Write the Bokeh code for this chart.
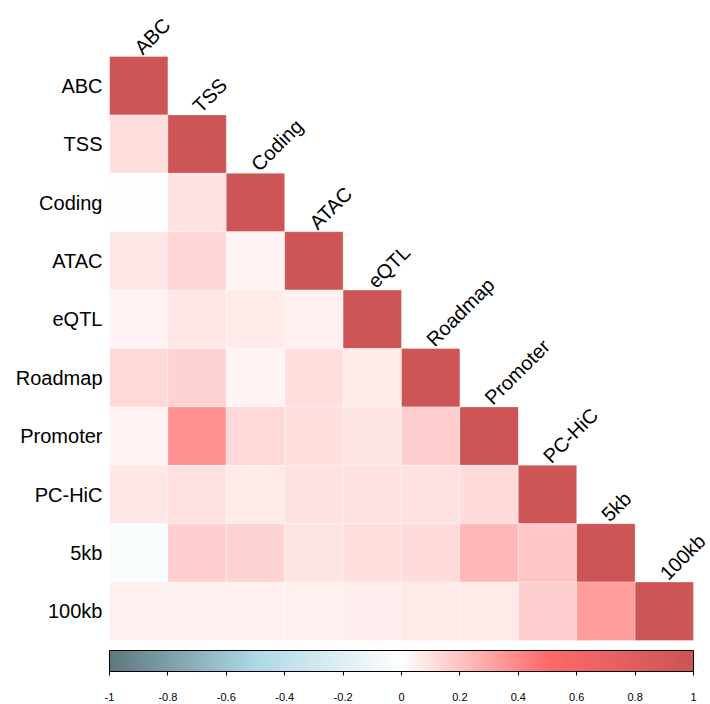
import numpy as np
from bokeh.plotting import figure
from bokeh.models import (ColumnDataSource, LinearColorMapper, ColorBar, FixedTicker,
                          Range1d, CustomJSTickFormatter)
from bokeh.transform import transform
from bokeh.core.properties import value
from bokeh.embed import file_html
from bokeh.resources import INLINE

# ---------------- data ----------------
labels = ["ABC", "TSS", "Coding", "ATAC", "eQTL", "Roadmap", "Promoter", "PC-HiC", "5kb", "100kb"]
# lower triangle of the correlation matrix, row by row (diagonal = 1)
row_ABC = [1.0]
row_TSS = [0.11, 1.0]
row_Coding = [-0.01, 0.10, 1.0]
row_ATAC = [0.08, 0.14, 0.04, 1.0]
row_eQTL = [0.04, 0.08, 0.07, 0.05, 1.0]
row_Roadmap = [0.13, 0.15, 0.04, 0.11, 0.07, 1.0]
row_Promoter = [0.04, 0.37, 0.13, 0.11, 0.09, 0.16, 1.0]
row_PCHiC = [0.08, 0.10, 0.07, 0.10, 0.10, 0.10, 0.12, 1.0]
row_5kb = [-0.03, 0.16, 0.15, 0.09, 0.11, 0.12, 0.24, 0.19, 1.0]
row_100kb = [0.05, 0.05, 0.05, 0.05, 0.06, 0.07, 0.07, 0.16, 0.33, 1.0]
corr_rows = [row_ABC, row_TSS, row_Coding, row_ATAC, row_eQTL, row_Roadmap,
             row_Promoter, row_PCHiC, row_5kb, row_100kb]
cbar_ticks = [-1, -0.8, -0.6, -0.4, -0.2, 0, 0.2, 0.4, 0.6, 0.8, 1]

# ---------------- palette ----------------
anchors = [(-1.0, (94, 121, 128)), (-0.5, (173, 216, 230)), (0.0, (255, 255, 255)),
           (0.5, (255, 106, 106)), (1.0, (205, 85, 85))]
palette = []
for v in np.linspace(-1, 1, 201):
    for (a, ca), (b, cb) in zip(anchors[:-1], anchors[1:]):
        if a <= v <= b:
            t = (v - a) / (b - a)
            c = [int(round(ca[k] + (cb[k] - ca[k]) * t)) for k in range(3)]
            palette.append("#%02x%02x%02x" % tuple(c))
            break
mapper = LinearColorMapper(palette=palette, low=-1, high=1)

xs, ys, vals = [], [], []
for i, row in enumerate(corr_rows):
    for j, v in enumerate(row):
        xs.append(j)
        ys.append(i)
        vals.append(v)
src = ColumnDataSource(dict(x=xs, y=ys, v=vals))
lab_src = ColumnDataSource(dict(x=list(range(len(labels))), y=list(range(len(labels))), t=labels))

# ---------------- geometry ----------------
n = len(labels)
cell = 58.4
W, H = 710, 704
left = 109
top_extra = 56
frame_w = W - left
frame_h = H
x_end = -0.5 + frame_w / cell
y_top = -0.5 - top_extra / cell
y_bottom = y_top + frame_h / cell

p = figure(width=W, height=H, output_backend="svg", toolbar_location=None,
           x_range=Range1d(-0.5, x_end), y_range=Range1d(y_bottom, y_top),
           min_border_left=left, min_border_right=0, min_border_top=0, min_border_bottom=0)
p.outline_line_color = None
p.xgrid.visible = False
p.ygrid.visible = False
p.xaxis.visible = False
p.background_fill_color = "white"
p.border_fill_color = "white"

p.rect(x="x", y="y", width=1, height=1, source=src,
       fill_color=transform("v", mapper), line_color="white", line_alpha=0.3, line_width=1)

p.text(x="x", y="y", text="t", source=lab_src, angle=np.pi / 4,
       x_offset=-1, y_offset=-35, text_align="left", text_baseline="alphabetic",
       text_font=value("Liberation Sans"), text_font_size="20px", text_color="black")

yax = p.yaxis[0]
yax.ticker = FixedTicker(ticks=list(range(n)))
yax.major_label_overrides = {i: lab for i, lab in enumerate(labels)}
yax.axis_line_color = None
yax.major_tick_line_color = None
yax.minor_tick_line_color = None
yax.major_tick_out = 0
yax.major_tick_in = 0
yax.major_label_standoff = 7
yax.major_label_text_font = "Liberation Sans"
yax.major_label_text_font_size = "20px"
yax.major_label_text_color = "black"

cb = ColorBar(color_mapper=mapper, orientation="horizontal", width=584, height=21,
              location=(0, 1), padding=0, margin=0,
              ticker=FixedTicker(ticks=cbar_ticks),
              formatter=CustomJSTickFormatter(code="return Number(tick.toFixed(1)).toString();"),
              major_tick_in=0, major_tick_out=4, major_tick_line_color="black",
              bar_line_color="black", bar_line_width=1,
              major_label_text_font="Liberation Sans", major_label_text_font_size="11px",
              major_label_text_color="black",
              label_standoff=17, border_line_color=None, background_fill_color=None)
p.add_layout(cb, "center")

open("out.html", "w").write(file_html(p, INLINE))
